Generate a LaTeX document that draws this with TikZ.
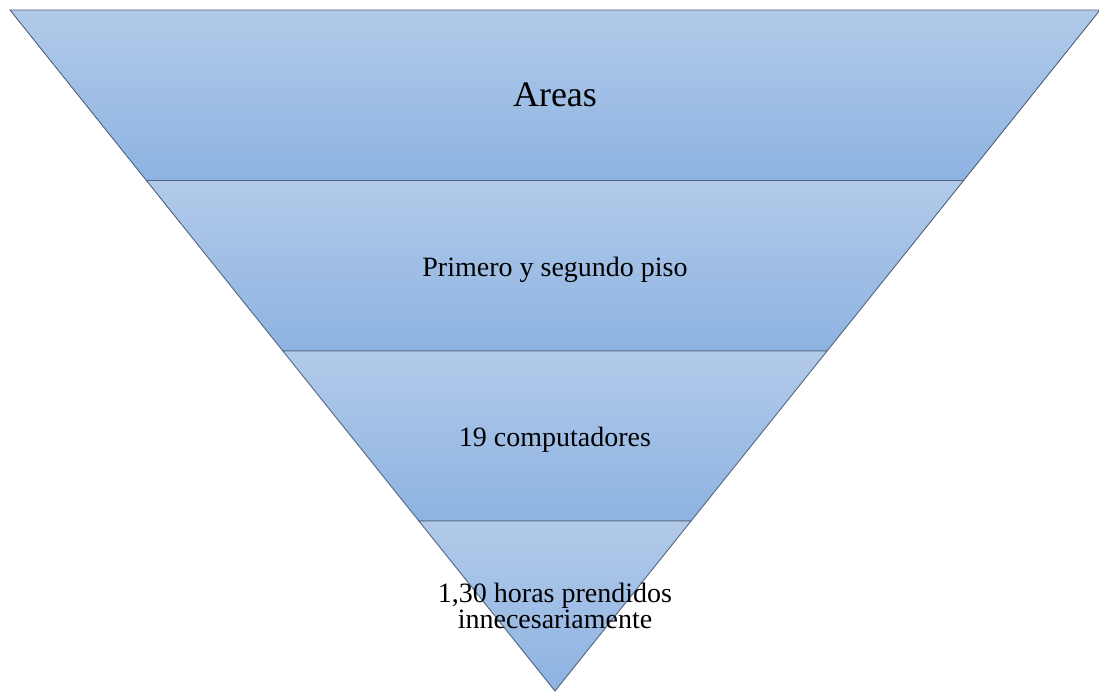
\documentclass[tikz,border=0pt]{standalone}
\usepackage{fontspec}
\setmainfont{Liberation Serif}
\definecolor{bandtop}{HTML}{B2CAE9}
\definecolor{bandbot}{HTML}{8DB3E2}
\definecolor{bandline}{HTML}{56647A}
\tikzset{
  band/.style={top color=bandtop, bottom color=bandbot, draw=bandline, line width=0.9pt, line join=miter},
  bandlabel/.style={anchor=base, text=black, inner sep=0pt},
}
\begin{document}
\begin{tikzpicture}[x=1pt,y=-1pt]
\useasboundingbox (0,0) rectangle (1099,693);
% bands (inverted triangle split in four)
\path[band] (10,10) -- (1100,10) -- (963.6,180.5) -- (146.4,180.5) -- cycle;
\path[band] (146.4,180.5) -- (963.6,180.5) -- (827.1,351) -- (282.9,351) -- cycle;
\path[band] (282.9,351) -- (827.1,351) -- (691.1,521) -- (418.9,521) -- cycle;
\path[band] (418.9,521) -- (691.1,521) -- (555,691) -- cycle;
% labels
\node[bandlabel, font=\fontsize{36}{40}\selectfont] (areas) at (555,106.5) {Areas};
\node[bandlabel, font=\fontsize{28}{30}\selectfont] (pisos) at (555,276) {Primero y segundo piso};
\node[bandlabel, font=\fontsize{28}{30}\selectfont] (comp) at (555,446) {19 computadores};
\node[bandlabel, font=\fontsize{28}{30}\selectfont] (horas1) at (555,602) {1,30 horas prendidos};
\node[bandlabel, font=\fontsize{28}{30}\selectfont] (horas2) at (555,628) {innecesariamente};
\end{tikzpicture}
\end{document}
